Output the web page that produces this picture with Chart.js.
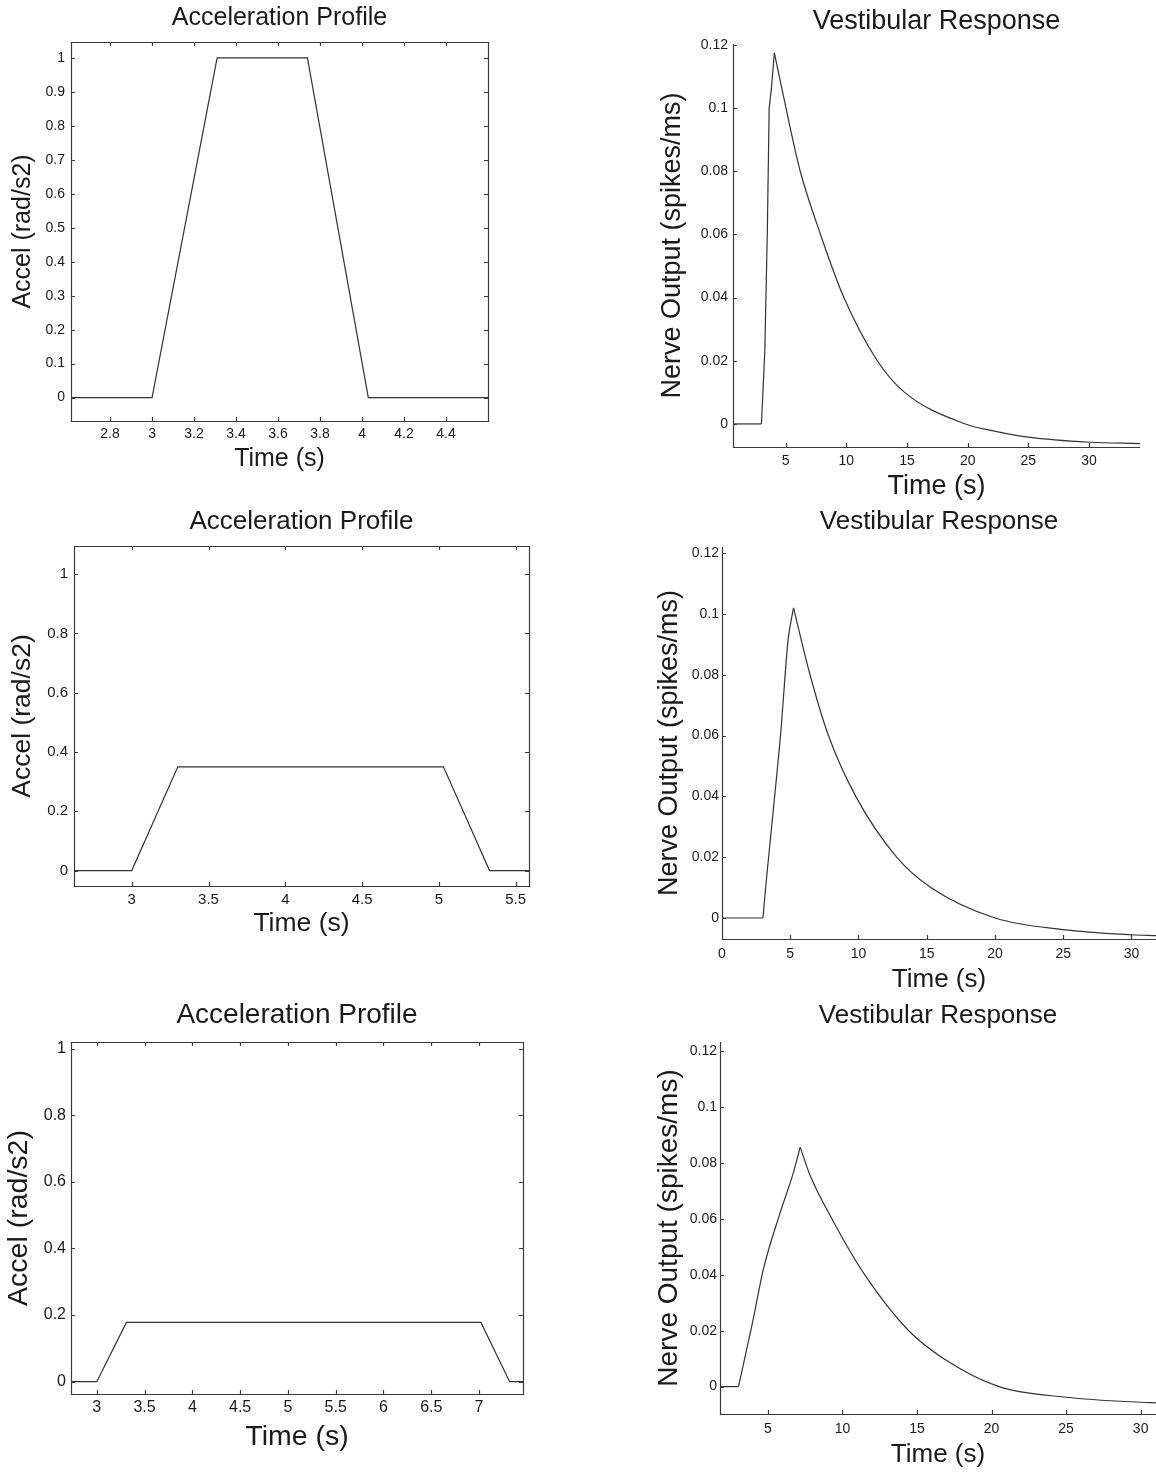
<!DOCTYPE html>
<html lang="en">

<head>
    <meta charset="UTF-8">
    <title>Acceleration Profile / Vestibular Response</title>
    <style>
        body { margin: 0; background: #fff; }
        #page { position: relative; width: 1156px; height: 1475px; background: #fff; overflow: hidden; }
    </style>
</head>

<body>
    <div id="page"></div>
    <script src="https://cdn.jsdelivr.net/npm/chart.js@4.4.0/dist/chart.umd.min.js"></script>

    <script>
        // ---- data ----
        // row 1
        const accel1Time = [2.6, 3.0, 3.31, 3.74, 4.03, 4.6]
        const accel1Value = [0, 0, 1, 1, 0, 0]
        const resp1BaseTime = [0.66, 3.0]
        const resp1BaseValue = [0, 0]
        const resp1RiseTime = [3.0, 3.1, 3.28, 3.49, 3.64, 3.82, 4.07]
        const resp1RiseValue = [0, 0.008, 0.023, 0.061, 0.1, 0.106, 0.1175]
        const resp1DecayTime = [4.07, 5.36, 6.2, 7.87, 9.8, 12.55, 14.8, 19.8, 22.0, 25.0, 30.0, 34.2]
        const resp1DecayValue = [0.1175, 0.094, 0.08, 0.06, 0.04, 0.02, 0.01, 0, -0.0021, -0.0042, -0.0058, -0.0062]

        // row 2
        const accel2Time = [2.62, 3.0, 3.3, 5.03, 5.33, 5.59]
        const accel2Value = [0, 0, 0.35, 0.35, 0, 0]
        const resp2BaseTime = [0, 3.0]
        const resp2BaseValue = [0, 0]
        const resp2RiseTime = [3.0, 3.23, 3.76, 4.3, 4.84, 5.24]
        const resp2RiseValue = [0, 0.0115, 0.0356, 0.0607, 0.0913, 0.102]
        const resp2DecayTime = [5.24, 6.45, 7.8, 9.8, 12.8, 15.3, 20.0, 25.0, 30.0, 31.8]
        const resp2DecayValue = [0.102, 0.08, 0.06, 0.04, 0.02, 0.01, 0, -0.0038, -0.0055, -0.0058]

        // row 3
        const accel3Time = [2.73, 3.0, 3.31, 7.02, 7.32, 7.46]
        const accel3Value = [0, 0, 0.178, 0.178, 0, 0]
        const resp3BaseTime = [1.79, 3.03]
        const resp3BaseValue = [0, 0]
        const resp3RiseTime = [3.03, 3.96, 4.7, 5.81, 6.68, 7.17]
        const resp3RiseValue = [0, 0.0226, 0.042, 0.062, 0.076, 0.0857]
        const resp3DecayTime = [7.17, 7.8, 9.3, 11.5, 14.45, 16.8, 20.5, 25.0, 30.0, 31.1]
        const resp3DecayValue = [0.0857, 0.076, 0.06, 0.04, 0.02, 0.01, 0, -0.0038, -0.0056, -0.0058]

        // ticks
        const accel1XTicks = [2.8, 3, 3.2, 3.4, 3.6, 3.8, 4, 4.2, 4.4]
        const accel1XLabels = ['2.8', '3', '3.2', '3.4', '3.6', '3.8', '4', '4.2', '4.4']
        const accel1YTicks = [0, 0.1, 0.2, 0.3, 0.4, 0.5, 0.6, 0.7, 0.8, 0.9, 1]
        const accel1YLabels = ['0', '0.1', '0.2', '0.3', '0.4', '0.5', '0.6', '0.7', '0.8', '0.9', '1']
        const accel2XTicks = [3, 3.5, 4, 4.5, 5, 5.5]
        const accel2XLabels = ['3', '3.5', '4', '4.5', '5', '5.5']
        const accel3XTicks = [3, 3.5, 4, 4.5, 5, 5.5, 6, 6.5, 7]
        const accel3XLabels = ['3', '3.5', '4', '4.5', '5', '5.5', '6', '6.5', '7']
        const accelYTicks = [0, 0.2, 0.4, 0.6, 0.8, 1]
        const accelYLabels = ['0', '0.2', '0.4', '0.6', '0.8', '1']
        const resp1XTicks = [5, 10, 15, 20, 25, 30]
        const resp1XLabels = ['5', '10', '15', '20', '25', '30']
        const resp2XTicks = [0, 5, 10, 15, 20, 25, 30]
        const resp2XLabels = ['0', '5', '10', '15', '20', '25', '30']
        const respYTicks = [0, 0.02, 0.04, 0.06, 0.08, 0.1, 0.12]
        const respYLabels = ['0', '0.02', '0.04', '0.06', '0.08', '0.1', '0.12']

        // ---- styling ----
        const FONT = '"Liberation Sans", Arial, Helvetica, sans-serif'
        const TEXT = '#1a1a1a'
        const AXIS = '#3a3a3a'
        const LINE = '#333333'

        // MATLAB look: thin frame and short inward ticks
        const matlabAxes = {
            id: 'matlabAxes',
            afterDatasetsDraw(chart, args, opts) {
                const { ctx, chartArea: a, scales: { x, y } } = chart
                const len = 4
                ctx.save()
                ctx.strokeStyle = AXIS
                ctx.lineWidth = 1.2
                ctx.beginPath()
                if (opts.box) {
                    ctx.rect(a.left + 0.5, a.top + 0.5, a.right - a.left, a.bottom - a.top)
                } else {
                    ctx.moveTo(a.left + 0.5, a.top)
                    ctx.lineTo(a.left + 0.5, a.bottom + 0.5)
                    ctx.lineTo(a.right, a.bottom + 0.5)
                }
                x.ticks.forEach(t => {
                    const px = Math.round(x.getPixelForValue(t.value)) + 0.5
                    ctx.moveTo(px, a.bottom)
                    ctx.lineTo(px, a.bottom - len)
                    if (opts.box) {
                        ctx.moveTo(px, a.top)
                        ctx.lineTo(px, a.top + len)
                    }
                })
                y.ticks.forEach(t => {
                    const py = Math.round(y.getPixelForValue(t.value)) + 0.5
                    ctx.moveTo(a.left, py)
                    ctx.lineTo(a.left + len, py)
                    if (opts.box) {
                        ctx.moveTo(a.right, py)
                        ctx.lineTo(a.right - len, py)
                    }
                })
                ctx.stroke()
                ctx.restore()
            }
        }

        // one entry per subplot: where it sits on the page and how big its text is
        const panels = [
            {
                x0: 0, y0: 0, w: 560, h: 474, area: { l: 71, r: 488, t: 42, b: 421 }, box: true,
                title: 'Acceleration Profile', titleSize: 25, titleY: 18,
                xTitle: 'Time (s)', xTitleSize: 25, xTitleY: 459, yTitle: 'Accel (rad/s2)', yTitleSize: 25, yTitleX: 23,
                tickSize: 14, xTickPad: 5, yTickPad: 6,
                xMin: 2.614, xMax: 4.6, yMin: -0.069, yMax: 1.047,
                lines: [[accel1Time, accel1Value, false]],
                xTicks: accel1XTicks, xLabels: accel1XLabels, yTicks: accel1YTicks, yLabels: accel1YLabels
            },
            {
                x0: 640, y0: 0, w: 516, h: 503, area: { l: 733, r: 1140, t: 44, b: 447 }, box: false,
                title: 'Vestibular Response', titleSize: 27, titleY: 21.7,
                xTitle: 'Time (s)', xTitleSize: 27, xTitleY: 487, yTitle: 'Nerve Output (spikes/ms)', yTitleSize: 27, yTitleX: 672.8,
                tickSize: 14, xTickPad: 5.6, yTickPad: 5,
                xMin: 0.66, xMax: 34.2, yMin: -0.0073, yMax: 0.1203,
                lines: [[resp1BaseTime, resp1BaseValue, false], [resp1RiseTime, resp1RiseValue, false], [resp1DecayTime, resp1DecayValue, true]],
                xTicks: resp1XTicks, xLabels: resp1XLabels, yTicks: respYTicks, yLabels: respYLabels
            },
            {
                x0: 0, y0: 490, w: 560, h: 450, area: { l: 74, r: 529, t: 546, b: 886 }, box: true,
                title: 'Acceleration Profile', titleSize: 26, titleY: 521.7,
                xTitle: 'Time (s)', xTitleSize: 26.5, xTitleY: 924, yTitle: 'Accel (rad/s2)', yTitleSize: 26.5, yTitleX: 23,
                tickSize: 15, xTickPad: 5, yTickPad: 6,
                xMin: 2.624, xMax: 5.587, yMin: -0.052, yMax: 1.095,
                lines: [[accel2Time, accel2Value, false]],
                xTicks: accel2XTicks, xLabels: accel2XLabels, yTicks: accelYTicks, yLabels: accelYLabels
            },
            {
                x0: 640, y0: 490, w: 516, h: 506, area: { l: 722, r: 1156, t: 547, b: 939 }, box: false,
                title: 'Vestibular Response', titleSize: 26, titleY: 522.3,
                xTitle: 'Time (s)', xTitleSize: 26, xTitleY: 980, yTitle: 'Nerve Output (spikes/ms)', yTitleSize: 27, yTitleX: 670,
                tickSize: 14, xTickPad: 6.6, yTickPad: 3,
                xMin: 0, xMax: 31.8, yMin: -0.0069, yMax: 0.122,
                lines: [[resp2BaseTime, resp2BaseValue, false], [resp2RiseTime, resp2RiseValue, true], [resp2DecayTime, resp2DecayValue, true]],
                xTicks: resp2XTicks, xLabels: resp2XLabels, yTicks: respYTicks, yLabels: respYLabels
            },
            {
                x0: 0, y0: 985, w: 560, h: 469, area: { l: 71, r: 523, t: 1042, b: 1394 }, box: true,
                title: 'Acceleration Profile', titleSize: 28, titleY: 1015,
                xTitle: 'Time (s)', xTitleSize: 28.5, xTitleY: 1436.7, yTitle: 'Accel (rad/s2)', yTitleSize: 28.5, yTitleX: 19.6,
                tickSize: 16, xTickPad: 4, yTickPad: 5,
                xMin: 2.73, xMax: 7.46, yMin: -0.037, yMax: 1.02,
                lines: [[accel3Time, accel3Value, false]],
                xTicks: accel3XTicks, xLabels: accel3XLabels, yTicks: accelYTicks, yLabels: accelYLabels
            },
            {
                x0: 640, y0: 985, w: 516, h: 486, area: { l: 720, r: 1156, t: 1042, b: 1414 }, box: false,
                title: 'Vestibular Response', titleSize: 26, titleY: 1015.7,
                xTitle: 'Time (s)', xTitleSize: 26, xTitleY: 1455, yTitle: 'Nerve Output (spikes/ms)', yTitleSize: 28, yTitleX: 669,
                tickSize: 14, xTickPad: 6.6, yTickPad: 3,
                xMin: 1.79, xMax: 31.03, yMin: -0.0098, yMax: 0.1233,
                lines: [[resp3BaseTime, resp3BaseValue, false], [resp3RiseTime, resp3RiseValue, true], [resp3DecayTime, resp3DecayValue, true]],
                xTicks: resp1XTicks, xLabels: resp1XLabels, yTicks: respYTicks, yLabels: respYLabels
            }
        ]

        function makeChart(p) {
            const canvas = document.createElement('canvas')
            canvas.width = p.w
            canvas.height = p.h
            canvas.style.cssText = `position:absolute;left:${p.x0}px;top:${p.y0}px;width:${p.w}px;height:${p.h}px`
            document.getElementById('page').appendChild(canvas)

            const a = p.area
            const titleLh = p.titleSize * 1.2
            const xLh = p.xTitleSize * 1.2
            const yLh = p.yTitleSize * 1.2

            // each [times, values, smooth] becomes one dataset
            const datasets = p.lines.map(([times, values, smooth]) => ({
                data: times.map((t, i) => ({ x: t, y: values[i] })),
                borderColor: LINE,
                borderWidth: 1.2,
                pointRadius: 0,
                tension: 0,
                cubicInterpolationMode: smooth ? 'monotone' : 'default'
            }))

            return new Chart(canvas, {
                type: 'line',
                data: { datasets },
                options: {
                    responsive: false,
                    animation: false,
                    devicePixelRatio: 1,
                    events: [],
                    layout: { padding: { left: 0, top: 0, bottom: 0, right: p.x0 + p.w - a.r } },
                    plugins: {
                        legend: { display: false },
                        tooltip: { enabled: false },
                        title: {
                            display: true,
                            text: p.title,
                            fullSize: false,
                            color: TEXT,
                            font: { family: FONT, size: p.titleSize, weight: 'normal', lineHeight: 1.2 },
                            padding: { top: p.titleY - p.y0 - titleLh / 2, bottom: a.t - p.titleY - titleLh / 2 }
                        },
                        matlabAxes: { box: p.box }
                    },
                    scales: {
                        x: {
                            type: 'linear',
                            min: p.xMin,
                            max: p.xMax,
                            grid: { display: false, drawTicks: false },
                            border: { display: false },
                            ticks: {
                                color: TEXT,
                                font: { family: FONT, size: p.tickSize },
                                padding: p.xTickPad,
                                maxRotation: 0,
                                autoSkip: false,
                                callback: (v, i) => p.xLabels[i]
                            },
                            afterBuildTicks: s => { s.ticks = p.xTicks.map(v => ({ value: v })) },
                            afterFit: s => { s.height = p.y0 + p.h - a.b },
                            title: {
                                display: true,
                                text: p.xTitle,
                                color: TEXT,
                                font: { family: FONT, size: p.xTitleSize, lineHeight: 1.2 },
                                padding: { top: 0, bottom: p.y0 + p.h - p.xTitleY - xLh / 2 }
                            }
                        },
                        y: {
                            type: 'linear',
                            min: p.yMin,
                            max: p.yMax,
                            grid: { display: false, drawTicks: false },
                            border: { display: false },
                            ticks: {
                                color: TEXT,
                                font: { family: FONT, size: p.tickSize },
                                padding: p.yTickPad,
                                autoSkip: false,
                                callback: (v, i) => p.yLabels[i]
                            },
                            afterBuildTicks: s => { s.ticks = p.yTicks.map(v => ({ value: v })) },
                            afterFit: s => { s.width = a.l - p.x0 },
                            title: {
                                display: true,
                                text: p.yTitle,
                                color: TEXT,
                                font: { family: FONT, size: p.yTitleSize, lineHeight: 1.2 },
                                padding: { top: p.yTitleX - p.x0 - yLh / 2, bottom: 0 }
                            }
                        }
                    }
                },
                plugins: [matlabAxes]
            })
        }

        panels.forEach(makeChart)
    </script>

</body>

</html>
